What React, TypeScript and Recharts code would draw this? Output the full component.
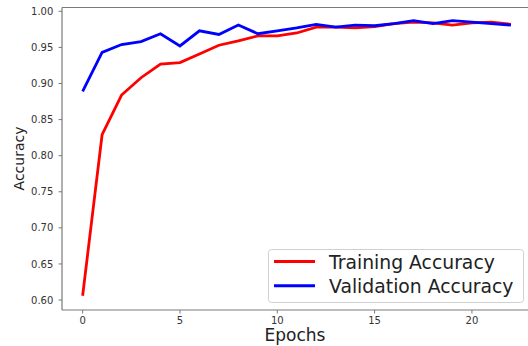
import React from 'react';
import { LineChart, Line, XAxis, YAxis, Legend, ReferenceLine } from 'recharts';

const epochs = [0, 1, 2, 3, 4, 5, 6, 7, 8, 9, 10, 11, 12, 13, 14, 15, 16, 17, 18, 19, 20, 21, 22];
const trainAcc = [0.606, 0.829, 0.884, 0.908, 0.927, 0.929, 0.941, 0.953, 0.959, 0.966, 0.966, 0.970, 0.978, 0.978, 0.977, 0.979, 0.983, 0.985, 0.984, 0.981, 0.984, 0.985, 0.982];
const valAcc = [0.889, 0.943, 0.954, 0.958, 0.969, 0.952, 0.973, 0.968, 0.981, 0.969, 0.973, 0.977, 0.982, 0.978, 0.981, 0.980, 0.983, 0.987, 0.983, 0.987, 0.985, 0.983, 0.981];
const xTicks = [0, 5, 10, 15, 20];
const yTicks = [0.6, 0.65, 0.7, 0.75, 0.8, 0.85, 0.9, 0.95, 1.0];
const seriesNames = ['Training Accuracy', 'Validation Accuracy'];

const data = epochs.map((e, i) => ({ epoch: e, train: trainAcc[i], val: valAcc[i] }));

const FONT = 'DejaVu Sans, sans-serif';
const SPINE = '#7a7a7a';
const Y_MIN = 0.5862;
const Y_MAX = 1.0053;

const renderLegend = (props: any) => {
  const payload = props.payload || [];
  return (
    <svg width={256} height={54} style={{ display: 'block' }}>
      <rect x={0.5} y={0.5} width={255} height={53} rx={3} ry={3} fill="#ffffff" fillOpacity={0.8} stroke="#d0d0d0" strokeWidth={1} />
      {payload.map((p: any, i: number) => (
        <g key={i}>
          <line x1={6} x2={47} y1={12.5 + 24.2 * i} y2={12.5 + 24.2 * i} stroke={p.color} strokeWidth={3} />
          <text x={61} y={19.5 + 24.2 * i} fontSize={18.8} fontFamily={FONT} fill="#222222">{p.value}</text>
        </g>
      ))}
    </svg>
  );
};

export default function App() {
  return (
    <div style={{ position: 'absolute', left: 0, top: 0, width: 528, height: 346, overflow: 'hidden', background: '#ffffff' }}>
      <LineChart width={528} height={346} data={data} margin={{ top: 7.5, right: 0, bottom: 0, left: 0 }}>
        <XAxis
          dataKey="epoch"
          type="number"
          domain={[-1.06, 22.88]}
          allowDataOverflow
          ticks={xTicks}
          height={36}
          tickSize={3.5}
          tickMargin={3.2}
          axisLine={{ stroke: SPINE, strokeWidth: 1.2 }}
          tickLine={{ stroke: SPINE }}
          tick={{ fontSize: 10, fontFamily: FONT, fill: '#333333' }}
          label={(p: any) => (
            <text x={295} y={341} textAnchor="middle" fontSize={17} fontFamily={FONT} fill="#222222">Epochs</text>
          )}
        />
        <YAxis
          type="number"
          domain={[Y_MIN, Y_MAX]}
          allowDataOverflow
          ticks={yTicks}
          width={62}
          tickSize={3.5}
          tickMargin={5.2}
          tickFormatter={(v: number) => v.toFixed(2)}
          axisLine={{ stroke: SPINE, strokeWidth: 1.2 }}
          tickLine={{ stroke: SPINE }}
          tick={{ fontSize: 10, fontFamily: FONT, fill: '#333333' }}
          label={(p: any) => (
            <text x={24} y={158.5} transform="rotate(-90, 24, 158.5)" textAnchor="middle" fontSize={14} fontFamily={FONT} fill="#222222">Accuracy</text>
          )}
        />
        <ReferenceLine y={Y_MAX} stroke={SPINE} strokeWidth={1.2} ifOverflow="extendDomain" />
        <Line type="linear" dataKey="train" name={seriesNames[0]} stroke="#ff0000" strokeWidth={2.8} dot={false} isAnimationActive={false} />
        <Line type="linear" dataKey="val" name={seriesNames[1]} stroke="#0000ff" strokeWidth={2.8} dot={false} isAnimationActive={false} />
        <Legend
          layout="horizontal"
          verticalAlign="middle"
          align="center"
          content={renderLegend}
          wrapperStyle={{ position: 'absolute', left: 268, top: 249, width: 256, height: 54 }}
        />
      </LineChart>
    </div>
  );
}
